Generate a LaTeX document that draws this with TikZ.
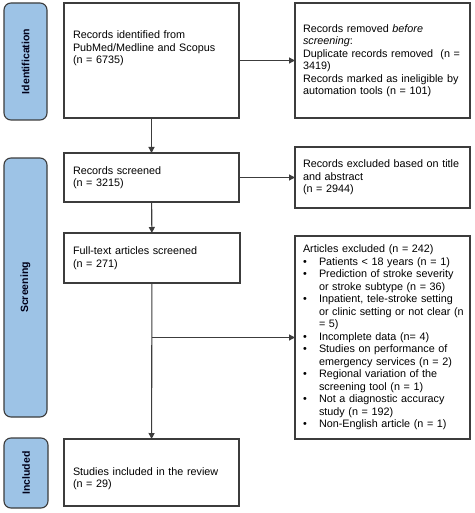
\documentclass[tikz,border=0pt]{standalone}
\usepackage{fontspec}
\setmainfont{Liberation Sans}
\usetikzlibrary{arrows.meta,calc}
\definecolor{bordc}{HTML}{3C3C3C}
\definecolor{labfill}{HTML}{9DC3E6}
\newcommand{\bul}{\makebox[16pt][l]{•}}
\newcommand{\cnt}{\hspace*{16pt}}
\begin{document}
\begin{tikzpicture}[x=1pt,y=-1pt,
  box/.style={draw=bordc, line width=1.1pt, fill=white, anchor=north west,
    inner xsep=8pt, inner ysep=0pt, align=left, outer sep=0pt,
    font=\fontsize{10.8}{12.5}\selectfont},
  lab/.style={draw=bordc, line width=1.1pt, fill=labfill, rounded corners=7pt,
    anchor=north west, inner sep=0pt, outer sep=0pt},
  labtxt/.style={rotate=90, font=\fontsize{10.5}{12}\selectfont\bfseries, text=black!90!blue},
  conn/.style={draw=bordc, line width=1.1pt, -{Triangle[length=6pt,width=6pt]}}
]
\useasboundingbox (0,0) rectangle (474,513);
\fill[white] (0,0) rectangle (474,513);

% phase labels
\node[lab, minimum width=43pt, minimum height=117pt] (lid) at (4,3) {};
\node[labtxt] (tid) at (lid.center) {Identification};
\node[lab, minimum width=43pt, minimum height=259pt] (lsc) at (4,158) {};
\node[labtxt] (tsc) at (lsc.center) {Screening};
\node[lab, minimum width=44pt, minimum height=70pt] (lin) at (4,438) {};
\node[labtxt] (tin) at (lin.center) {Included};

% boxes
\node[box, minimum height=115pt, inner xsep=9pt, text width=157pt] (b1) at (64,3)
  {Records identified from\\PubMed/Medline and Scopus\\(n = 6735)\rule[-26pt]{0pt}{0pt}};
\node[box, text width=159pt, minimum height=115pt] (b2) at (295,3)
  {Records removed \textit{before}\\\textit{screening}:\\Duplicate records removed~ (n =\\3419)\\Records marked as ineligible by\\automation tools (n = 101)};
\node[box, text width=157pt, minimum height=49pt, inner xsep=9pt] (b3) at (64,153)
  {Records screened\\(n = 3215)};
\node[box, text width=159pt, minimum height=61pt] (b4) at (295,147)
  {Records excluded based on title\\and abstract\\(n = 2944)};
\node[box, text width=158pt, minimum height=50pt, inner xsep=9pt] (b5) at (64,233)
  {Full-text articles screened\\(n = 271)};
\node[box, text width=159pt, minimum height=203pt] (b6) at (295,236)
  {Articles excluded (n = 242)\\
   \bul Patients < 18 years (n = 1)\\
   \bul Prediction of stroke severity\\
   \cnt or stroke subtype (n = 36)\\
   \bul Inpatient, tele-stroke setting\\
   \cnt\mbox{or clinic setting or not clear (n}\\
   \cnt = 5)\\
   \bul Incomplete data (n= 4)\\
   \bul Studies on performance of\\
   \cnt emergency services (n = 2)\\
   \bul Regional variation of the\\
   \cnt screening tool (n = 1)\\
   \bul Not a diagnostic accuracy\\
   \cnt study (n = 192)\\
   \bul Non-English article (n = 1)};
\node[box, text width=157pt, minimum height=67pt, inner xsep=9pt] (b7) at (64,439)
  {\rule{0pt}{20pt}Studies included in the review\\(n = 29)};

% connectors
\draw[conn] (b1) -- (b2);
\draw[conn] (b1) -- (b3);
\draw[conn] (b3) -- (b4);
\draw[conn] (b3) -- (b5);
\draw[conn] (b5) -- (b7);
\coordinate (br) at (b5.south |- b6.west);
\draw[conn] (br) -- (b6.west);
\end{tikzpicture}
\end{document}
